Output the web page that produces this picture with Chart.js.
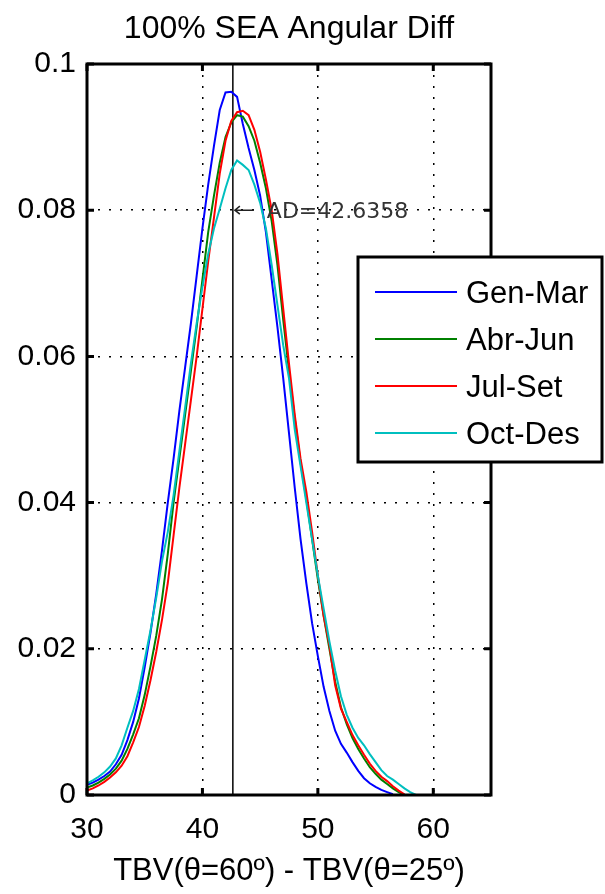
<!DOCTYPE html>
<html>
<head>
<meta charset="utf-8">
<title>100% SEA Angular Diff</title>
<script src="https://cdn.jsdelivr.net/npm/chart.js@4.4.1/dist/chart.umd.min.js"></script>
<style>
  html, body { margin: 0; padding: 0; background: #fff; }
  #wrap { width: 605px; height: 894px; }
</style>
</head>
<body>
<div id="wrap"><canvas id="angularDiff" width="605" height="894"></canvas></div>
<script>
const chartTitle = "100% SEA Angular Diff";
const xAxisTitle = "TBV(θ=60º) - TBV(θ=25º)";
const seasons = ["Gen-Mar", "Abr-Jun", "Jul-Set", "Oct-Des"];
const seasonColors = ["#0000ff", "#008000", "#ff0000", "#00bfbf"];
const xTicks = [30, 40, 50, 60];
const yTicks = [0, 0.02, 0.04, 0.06, 0.08, 0.1];
const yTickLabels = ["0", "0.02", "0.04", "0.06", "0.08", "0.1"];
const adValue = 42.6358;
const adLabelY = 0.08;

// histogram bin centres (angular difference, K)
const binCenters = [
  30, 30.5, 31, 31.5, 32, 32.5, 33, 33.5, 34, 34.5,
  35, 35.5, 36, 36.5, 37, 37.5, 38, 38.5, 39, 39.5,
  40, 40.5, 41, 41.5, 42, 42.5, 43, 43.5, 44, 44.5,
  45, 45.5, 46, 46.5, 47, 47.5, 48, 48.5, 49, 49.5,
  50, 50.5, 51, 51.5, 52, 52.5, 53, 53.5, 54, 54.5,
  55, 55.5, 56, 56.5, 57, 57.5, 58, 58.5
];

// normalised frequencies per season
const genMar = [
  0.0014, 0.0017, 0.0021, 0.0026, 0.0032, 0.0042, 0.0055, 0.0075, 0.0100, 0.0132,
  0.0175, 0.0222, 0.0275, 0.0335, 0.0400, 0.0460, 0.0525, 0.0585, 0.0645, 0.0710,
  0.0775, 0.0835, 0.0888, 0.0937, 0.0961, 0.0962, 0.0955, 0.0918, 0.0885, 0.0855,
  0.0820, 0.0770, 0.0705, 0.0640, 0.0570, 0.0495, 0.0420, 0.0350, 0.0290, 0.0235,
  0.0190, 0.0148, 0.0115, 0.0088, 0.0070, 0.0058, 0.0045, 0.0033, 0.0023, 0.0016,
  0.0011, 0.0007, 0.0004, 0.0001
];
const abrJun = [
  0.0010, 0.0013, 0.0017, 0.0022, 0.0028, 0.0036, 0.0047, 0.0063, 0.0083, 0.0105,
  0.0137, 0.0176, 0.0218, 0.0268, 0.0330, 0.0400, 0.0460, 0.0520, 0.0580, 0.0640,
  0.0705, 0.0770, 0.0820, 0.0865, 0.0900, 0.0920, 0.0930, 0.0928, 0.0915, 0.0895,
  0.0865, 0.0830, 0.0785, 0.0725, 0.0650, 0.0580, 0.0515, 0.0455, 0.0405, 0.0350,
  0.0295, 0.0245, 0.0200, 0.0155, 0.0120, 0.0097, 0.0078, 0.0063, 0.0050, 0.0038,
  0.0029, 0.0021, 0.0015, 0.0009, 0.0004, 0.0000
];
const julSet = [
  0.0006, 0.0009, 0.0013, 0.0018, 0.0024, 0.0031, 0.0040, 0.0053, 0.0072, 0.0093,
  0.0122, 0.0157, 0.0196, 0.0240, 0.0290, 0.0355, 0.0420, 0.0480, 0.0540, 0.0600,
  0.0665, 0.0730, 0.0790, 0.0850, 0.0895, 0.0922, 0.0934, 0.0936, 0.0930, 0.0910,
  0.0880, 0.0842, 0.0800, 0.0740, 0.0665, 0.0590, 0.0520, 0.0460, 0.0415, 0.0360,
  0.0300, 0.0245, 0.0205, 0.0150, 0.0118, 0.0100, 0.0082, 0.0068, 0.0055, 0.0043,
  0.0033, 0.0025, 0.0019, 0.0012, 0.0006, 0.0001
];
const octDes = [
  0.0016, 0.0020, 0.0025, 0.0031, 0.0039, 0.0050, 0.0068, 0.0092, 0.0115, 0.0145,
  0.0185, 0.0225, 0.0270, 0.0320, 0.0360, 0.0410, 0.0470, 0.0530, 0.0590, 0.0645,
  0.0695, 0.0740, 0.0775, 0.0802, 0.0830, 0.0855, 0.0868, 0.0862, 0.0855, 0.0835,
  0.0810, 0.0775, 0.0725, 0.0670, 0.0615, 0.0570, 0.0500, 0.0450, 0.0400, 0.0350,
  0.0300, 0.0255, 0.0210, 0.0170, 0.0135, 0.0110, 0.0092, 0.0078, 0.0068, 0.0056,
  0.0045, 0.0034, 0.0026, 0.0021, 0.0015, 0.0009, 0.0004, 0.0000
];

const seriesValues = [genMar, abrJun, julSet, octDes];
const FONT = "'Liberation Sans', Arial, Helvetica, sans-serif";

const toPoints = (values) => values.map((v, i) => ({ x: binCenters[i], y: v }));

const datasets = seriesValues.map((values, i) => ({
  label: seasons[i],
  data: toPoints(values),
  borderColor: seasonColors[i],
  borderWidth: 2,
  pointRadius: 0,
  fill: false,
  tension: 0,
  order: seasons.length - i + 1,
}));

// vertical marker at the mean angular difference
datasets.push({
  label: "AD",
  data: [{ x: adValue, y: yTicks[0] }, { x: adValue, y: yTicks[yTicks.length - 1] }],
  borderColor: "#000",
  borderWidth: 1.5,
  pointRadius: 0,
  order: 10,
});

const framePlugin = {
  id: "frame",
  beforeDraw(chart) {
    const { ctx, width, height } = chart;
    ctx.save();
    ctx.fillStyle = "#fff";
    ctx.fillRect(0, 0, width, height);
    ctx.restore();
  },
  afterDatasetsDraw(chart) {
    const { ctx, chartArea: a, scales } = chart;
    const x = scales.x, y = scales.y;
    ctx.save();

    // AD annotation with arrow pointing at the marker line
    const lx = x.getPixelForValue(adValue);
    const ly = y.getPixelForValue(adLabelY);
    ctx.strokeStyle = "#222";
    ctx.lineWidth = 1.5;
    ctx.beginPath();
    ctx.moveTo(lx + 2, ly);
    ctx.lineTo(lx + 21, ly);
    ctx.moveTo(lx + 7, ly - 4);
    ctx.lineTo(lx + 2, ly);
    ctx.lineTo(lx + 7, ly + 4);
    ctx.stroke();
    ctx.font = "22px 'DejaVu Sans', sans-serif";
    ctx.textBaseline = "middle";
    ctx.textAlign = "left";
    ctx.fillStyle = "#333";
    ctx.fillText("AD=" + adValue.toFixed(4), lx + 34, ly + 2);

    // axes box
    ctx.strokeStyle = "#000";
    ctx.lineWidth = 3;
    ctx.strokeRect(a.left, a.top, a.width, a.height);

    // inward tick marks
    const tl = 7;
    ctx.beginPath();
    xTicks.forEach((v) => {
      const px = x.getPixelForValue(v);
      ctx.moveTo(px, a.bottom); ctx.lineTo(px, a.bottom - tl);
      ctx.moveTo(px, a.top); ctx.lineTo(px, a.top + tl);
    });
    yTicks.forEach((v) => {
      const py = y.getPixelForValue(v);
      ctx.moveTo(a.left, py); ctx.lineTo(a.left + tl, py);
      ctx.moveTo(a.right, py); ctx.lineTo(a.right - tl, py);
    });
    ctx.stroke();
    ctx.restore();
  },
  afterDraw(chart) {
    const { ctx, chartArea: a } = chart;
    ctx.save();

    // title centred over the axes
    ctx.fillStyle = "#000";
    ctx.font = "32px " + FONT;
    ctx.textAlign = "center";
    ctx.textBaseline = "middle";
    ctx.fillText(chartTitle, (a.left + a.right) / 2, 29);

    // legend box, partly overlapping the right edge of the axes
    const bx = 358, by = 257, bw = 244, bh = 205;
    ctx.fillStyle = "#fff";
    ctx.fillRect(bx, by, bw, bh);
    ctx.strokeStyle = "#000";
    ctx.lineWidth = 3;
    ctx.strokeRect(bx, by, bw, bh);
    ctx.font = "31px " + FONT;
    ctx.textAlign = "left";
    seasons.forEach((name, i) => {
      const ry = by + 35 + i * 47;
      ctx.strokeStyle = seasonColors[i];
      ctx.lineWidth = 2;
      ctx.beginPath();
      ctx.moveTo(bx + 17, ry);
      ctx.lineTo(bx + 99, ry);
      ctx.stroke();
      ctx.fillStyle = "#000";
      ctx.fillText(name, bx + 108, ry + 2);
    });
    ctx.restore();
  },
};

new Chart(document.getElementById("angularDiff"), {
  type: "line",
  data: { datasets },
  plugins: [framePlugin],
  options: {
    responsive: false,
    animation: false,
    devicePixelRatio: 1,
    layout: { padding: { left: 0, right: 114, top: 64, bottom: 0 } },
    plugins: {
      legend: { display: false },
      title: { display: false },
      tooltip: { enabled: false },
    },
    scales: {
      x: {
        type: "linear",
        min: 30,
        max: 65,
        afterBuildTicks: (scale) => { scale.ticks = xTicks.map((v) => ({ value: v })); },
        afterFit: (scale) => { scale.height = 99; },
        border: { display: false, dash: [2, 9] },
        grid: { color: "#000", lineWidth: 1.5, drawTicks: false },
        ticks: {
          color: "#000",
          padding: 17,
          maxRotation: 0,
          font: { family: FONT, size: 30 },
        },
        title: {
          display: true,
          text: xAxisTitle,
          color: "#000",
          padding: { top: 0, bottom: 4 },
          font: { family: FONT, size: 31 },
        },
      },
      y: {
        type: "linear",
        min: 0,
        max: 0.1,
        afterBuildTicks: (scale) => { scale.ticks = yTicks.map((v) => ({ value: v })); },
        afterFit: (scale) => { scale.width = 87; },
        border: { display: false, dash: [2, 9] },
        grid: { color: "#000", lineWidth: 1.5, drawTicks: false },
        ticks: {
          color: "#000",
          padding: 11,
          font: { family: FONT, size: 30 },
          callback: (value) => yTickLabels[yTicks.indexOf(value)],
        },
      },
    },
  },
});
</script>
</body>
</html>
